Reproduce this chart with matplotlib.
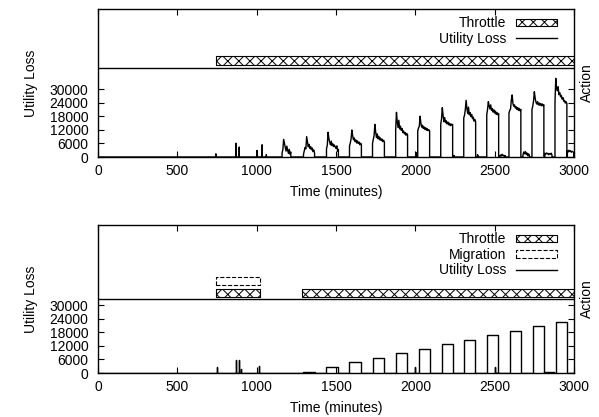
import numpy as np
import matplotlib.pyplot as plt
from matplotlib.patches import Patch
from matplotlib.lines import Line2D

plt.rcParams['font.family'] = ['Liberation Sans', 'DejaVu Sans']
plt.rcParams['font.size'] = 10
plt.rcParams['hatch.linewidth'] = 0.7

# ---- throttle only run (upper plot) ----
# isolated spikes: time (min), loss (x1000)
spike_t = [743, 870, 890, 1002, 1034, 1061]
spike_v = [1.3, 6.0, 4.3, 2.8, 5.3, 1.0]

# periodic loss bursts, sampled every 5 minutes (x1000)
burst_t = [1160, 1295, 1440, 1585, 1730, 1876, 2015, 2160, 2305, 2450, 2590, 2735, 2880]
burst_v = [
    [1.8, 3.2, 7.8, 6.0, 4.1, 2.6, 4.8, 3.0, 1.6, 3.4, 1.2, 2.2],
    [1.2, 2.8, 4.2, 3.6, 9.0, 6.8, 4.5, 5.6, 3.8, 4.6, 3.2, 4.0, 2.4, 3.1, 1.6],
    [3.6, 5.2, 10.9, 8.2, 6.5, 5.4, 7.0, 5.0, 5.8, 4.6, 5.3, 4.4, 3.8, 4.9, 2.6, 3.4],
    [4.8, 6.2, 8.0, 11.9, 9.4, 7.6, 8.4, 6.8, 7.5, 6.2, 7.1, 6.0, 6.6, 5.4, 6.1, 5.6],
    [6.0, 7.8, 9.5, 14.4, 11.0, 8.6, 10.2, 8.0, 9.1, 7.6, 8.4, 7.2, 7.9, 6.8, 7.4, 6.6],
    [12.0, 19.7, 15.5, 13.0, 16.2, 12.4, 13.6, 11.8, 12.6, 10.8, 11.5, 10.2, 10.8, 9.6, 10.4, 9.8],
    [11.5, 12.8, 13.6, 18.0, 14.8, 13.2, 14.0, 12.6, 13.3, 12.2, 12.9, 11.8, 12.5, 11.6, 12.1, 11.4],
    [14.5, 16.8, 21.8, 18.2, 15.6, 17.4, 15.2, 16.0, 14.6, 15.4, 14.2, 14.9, 13.8, 14.6, 14.0, 14.4],
    [17.2, 18.5, 21.0, 25.0, 21.4, 19.2, 22.0, 18.6, 19.6, 17.8, 18.8, 16.9, 17.6, 15.8, 16.6, 15.6],
    [18.6, 21.0, 24.4, 22.6, 21.2, 23.0, 20.6, 21.4, 19.8, 20.8, 19.4, 20.2, 18.8, 19.6, 18.6, 19.2],
    [19.4, 20.6, 21.2, 25.2, 27.4, 23.6, 22.4, 23.0, 21.6, 22.2, 21.0, 21.8, 20.6, 21.4, 20.4, 21.0],
    [21.0, 22.4, 24.8, 28.8, 26.0, 24.2, 23.4, 24.4, 23.0, 23.8, 22.8, 23.6, 22.6, 23.4, 22.6, 23.0],
    [24.0, 34.7, 30.5, 29.2, 31.0, 27.5, 28.4, 26.6, 27.2, 25.6, 26.2, 24.6, 25.0, 23.8, 24.4, 23.6],
]

# low-level loss between bursts (x1000)
gap_t = [2003, 2245, 2392, 2532, 2678, 2816, 2958]
gap_v = [
    [2.0],
    [0.6],
    [1.0, 0.2],
    [0.3, 0.9, 0.4, 1.2, 0.5, 0.8, 0.2, 0.6],
    [0.8, 2.2, 1.4, 2.4, 1.2, 1.8, 0.6, 1.4, 0.9],
    [1.6, 1.2, 1.8, 1.4, 1.6, 1.0, 1.5, 1.2, 1.7, 0.9],
    [2.6, 2.2, 3.0, 2.4, 2.8, 2.1, 2.5, 2.3, 2.0],
]

throttle1 = [(745, 3000)]

# ---- throttle + migration run (lower plot) ----
spike2_t = [750, 867, 886, 901, 1013, 1996, 2501]
spike2_v = [2.8, 5.6, 5.6, 1.8, 2.9, 2.6, 2.6]

plateau_t = [1295, 1440, 1585, 1730, 1876, 2021, 2166, 2305, 2450, 2596, 2741, 2812, 2886]
plateau_v = [0.6, 2.6, 4.7, 6.6, 8.8, 10.6, 12.8, 14.7, 16.8, 18.7, 20.7, 0.3, 22.6]
plateau_w = [72, 72, 72, 72, 72, 72, 72, 72, 72, 72, 72, 62, 72]

throttle2 = [(745, 1018), (1288, 3000)]
migration2 = [(745, 1018)]


def trace(segments):
    # segments: (start, step, values); returns a time/value path over 0..3000
    t, v = [0], [0]
    for start, step, vals in sorted(segments, key=lambda s: s[0]):
        times = start + step * np.arange(len(vals))
        t += [start] + list(times) + [times[-1]]
        v += [0] + [x * 1000 for x in vals] + [0]
    t.append(3000)
    v.append(0)
    return np.array(t), np.array(v)


seg1 = [(s, 0, [x]) for s, x in zip(spike_t, spike_v)]
seg1 += [(s, 5, vals) for s, vals in zip(burst_t, burst_v)]
seg1 += [(s, 5, vals) for s, vals in zip(gap_t, gap_v)]
t1, v1 = trace(seg1)

seg2 = [(s, 0, [x]) for s, x in zip(spike2_t, spike2_v)]
seg2 += [(s, w, [x, x]) for s, x, w in zip(plateau_t, plateau_v, plateau_w)]
t2, v2 = trace(seg2)

fig = plt.figure(figsize=(5.99, 4.17), dpi=100)
ax1 = fig.add_axes([0.1636, 0.6235, 0.7947, 0.3549])
ax2 = fig.add_axes([0.1636, 0.1055, 0.7947, 0.3549])

hatch_kw = dict(facecolor='white', edgecolor='black', hatch='xxx', linewidth=0.8)


def setup(ax, sep):
    ax.set_xlim(0, 3000)
    ax.set_ylim(0, 65300)
    ax.axhline(sep, color='black', lw=1.0)
    ax.set_xticks(np.arange(0, 3001, 500))
    ax.set_yticks(np.arange(0, 30001, 6000))
    ax.tick_params(direction='in', top=True, right=True, length=4, width=0.8)
    ax.tick_params(axis='x', pad=5)
    ax.tick_params(axis='y', pad=7)
    ax.set_xlabel('Time (minutes)', labelpad=5)
    ax.set_ylabel('Utility Loss')
    ax.yaxis.set_label_coords(-0.125, 0.5)
    ax.text(1.027, 0.5, 'Action', rotation=90, ha='center', va='center',
            transform=ax.transAxes)
    for sp in ax.spines.values():
        sp.set_linewidth(1.0)


setup(ax1, 39300)
ax1.plot(t1, v1, color='black', lw=1.0)
ax1.broken_barh([(a, b - a) for a, b in throttle1], (40600, 3950), **hatch_kw)
ax1.legend(handles=[Patch(label='Throttle', **hatch_kw),
                    Line2D([], [], color='black', lw=1.0, label='Utility Loss')],
           loc='upper right', bbox_to_anchor=(0.965, 0.95), frameon=False,
           markerfirst=False, handlelength=3.0, handleheight=0.5,
           handletextpad=0.7, labelspacing=0.1, borderpad=0, borderaxespad=0)

setup(ax2, 32650)
ax2.plot(t2, v2, color='black', lw=1.0)
ax2.broken_barh([(a, b - a) for a, b in throttle2], (33530, 3530), **hatch_kw)
ax2.broken_barh([(a, b - a) for a, b in migration2], (38690, 3530),
                facecolor='white', edgecolor='black', linestyle='--', linewidth=0.8)
ax2.legend(handles=[Patch(label='Throttle', **hatch_kw),
                    Patch(facecolor='white', edgecolor='black', linestyle='--',
                          linewidth=0.8, label='Migration'),
                    Line2D([], [], color='black', lw=1.0, label='Utility Loss')],
           loc='upper right', bbox_to_anchor=(0.965, 0.95), frameon=False,
           markerfirst=False, handlelength=3.0, handleheight=0.5,
           handletextpad=0.7, labelspacing=0.1, borderpad=0, borderaxespad=0)

fig.savefig('out.png', dpi=100)
